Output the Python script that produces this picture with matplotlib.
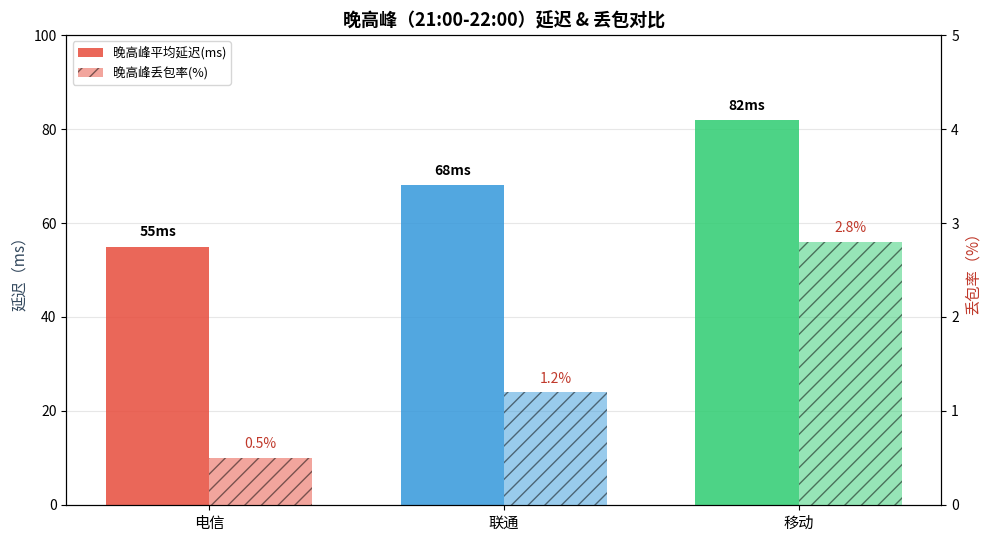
import numpy as np
import matplotlib.pyplot as plt

plt.rcParams['font.family'] = ['Noto Sans CJK SC', 'DejaVu Sans']

isps = ['电信', '联通', '移动']
latency = [55, 68, 82]
loss = [0.5, 1.2, 2.8]
colors = ['#e74c3c', '#3498db', '#2ecc71']

fig, ax = plt.subplots(figsize=(9.9, 5.4), dpi=100)
ax2 = ax.twinx()
x = np.arange(len(isps))
w = 0.35

b1 = ax.bar(x - w/2, latency, w, color=colors, alpha=0.85, label='晚高峰平均延迟(ms)', zorder=2)
b2 = ax2.bar(x + w/2, loss, w, color=colors, alpha=0.5, hatch='//', edgecolor='black',
             linewidth=0, label='晚高峰丢包率(%)', zorder=2)

for xi, v in zip(x, latency):
    ax.text(xi - w/2, v + 1.5, f'{v}ms', ha='center', va='bottom', fontsize=10, fontweight='bold')
for xi, v in zip(x, loss):
    ax2.text(xi + w/2, v + 0.07, f'{v}%', ha='center', va='bottom', fontsize=10, color='#c0392b')

ax.set_ylim(0, 100)
ax2.set_ylim(0, 5)
ax.set_xticks(x)
ax.set_xticklabels(isps, fontsize=11)
ax.set_ylabel('延迟（ms）', color='#34495e', fontsize=11)
ax2.set_ylabel('丢包率（%）', color='#c0392b', fontsize=11)
ax.grid(axis='y', alpha=0.3, zorder=0)
ax.set_title('晚高峰（21:00-22:00）延迟 & 丢包对比', fontsize=13, fontweight='bold')

h1, l1 = ax.get_legend_handles_labels()
h2, l2 = ax2.get_legend_handles_labels()
ax.legend(h1 + h2, l1 + l2, loc='upper left', fontsize=9)

plt.subplots_adjust(left=0.067, right=0.951, top=0.935, bottom=0.065)
plt.savefig('out.png')
